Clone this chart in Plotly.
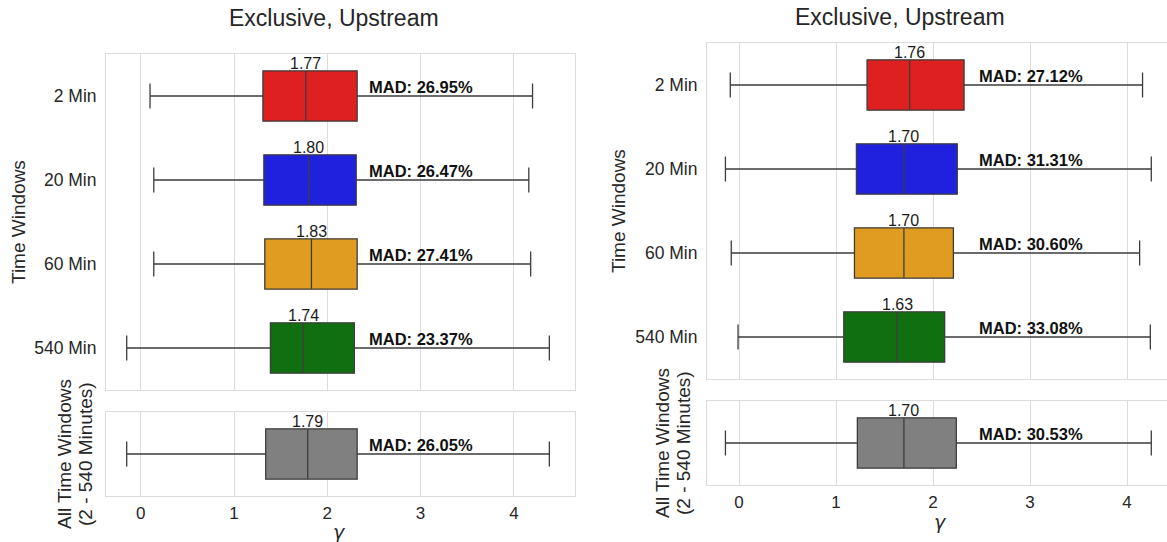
import plotly.graph_objects as go

# ---- data -------------------------------------------------------------
windows = ["2 Min", "20 Min", "60 Min", "540 Min"]
window_colors = ["#df2020", "#2020df", "#df9c20", "#107010"]
all_color = "#808080"
all_label = "All"

# panel A
a_lower = [0.10, 0.14, 0.14, -0.15]
a_q1 = [1.31, 1.32, 1.33, 1.39]
a_median = [1.77, 1.80, 1.83, 1.74]
a_q3 = [2.32, 2.31, 2.32, 2.29]
a_upper = [4.20, 4.16, 4.18, 4.38]
a_mad = [26.95, 26.47, 27.41, 23.37]
a_all_stats = [-0.15, 1.34, 1.79, 2.32, 4.38]   # lower, q1, median, q3, upper
a_all_mad = 26.05

# panel B
b_lower = [-0.09, -0.14, -0.08, -0.01]
b_q1 = [1.32, 1.21, 1.19, 1.08]
b_median = [1.76, 1.70, 1.70, 1.63]
b_q3 = [2.32, 2.25, 2.21, 2.12]
b_upper = [4.16, 4.25, 4.13, 4.24]
b_mad = [27.12, 31.31, 30.60, 33.08]
b_all_stats = [-0.14, 1.22, 1.70, 2.24, 4.25]
b_all_mad = 30.53

panel_title = "Exclusive, Upstream"
x_ticks = [0, 1, 2, 3, 4]

# ---- styling ----------------------------------------------------------
W, H = 1167, 542
FONT = "Liberation Sans, Arial, sans-serif"
TEXT = "#262626"
EDGE = "#3d3d3d"
GRID = "#dcdcdc"


def px(x):
    return x / W


def py(y):
    return 1 - y / H


fig = go.Figure()


def add_box(cat, lo, q1, med, q3, hi, color, xa, ya):
    fig.add_trace(go.Box(
        orientation="h", y=[cat], lowerfence=[lo], q1=[q1], median=[med],
        q3=[q3], upperfence=[hi], fillcolor=color,
        line=dict(color=EDGE, width=1.3), width=0.6, whiskerwidth=0.5,
        boxpoints=False, showlegend=False, xaxis=xa, yaxis=ya,
        hoverinfo="skip"))


annotations = []


def add_labels(cat, med, mad, mad_x, xa, ya):
    annotations.append(dict(
        x=med, y=cat, xref=xa, yref=ya, text=f"{med:.2f}", showarrow=False,
        xanchor="center", yanchor="middle", yshift=33,
        font=dict(family=FONT, size=16, color="#1a1a1a")))
    annotations.append(dict(
        x=mad_x, y=cat, xref=xa, yref=ya, text=f"<b>MAD: {mad:.2f}%</b>",
        showarrow=False, xanchor="left", yanchor="middle", yshift=9,
        font=dict(family=FONT, size=16.5, color="#111111")))


# panel A boxes
for i, w in enumerate(windows):
    add_box(w, a_lower[i], a_q1[i], a_median[i], a_q3[i], a_upper[i],
            window_colors[i], "x", "y")
    add_labels(w, a_median[i], a_mad[i], 2.43, "x", "y")
add_box(all_label, *a_all_stats, all_color, "x2", "y2")
add_labels(all_label, a_all_stats[2], a_all_mad, 2.43, "x2", "y2")

# panel B boxes
for i, w in enumerate(windows):
    add_box(w, b_lower[i], b_q1[i], b_median[i], b_q3[i], b_upper[i],
            window_colors[i], "x3", "y3")
    add_labels(w, b_median[i], b_mad[i], 2.45, "x3", "y3")
add_box(all_label, *b_all_stats, all_color, "x4", "y4")
add_labels(all_label, b_all_stats[2], b_all_mad, 2.45, "x4", "y4")


def xaxis(domain, rng, anchor, labels, mirror=True):
    return dict(domain=domain, range=rng, anchor=anchor, tickvals=x_ticks,
                showticklabels=labels, showgrid=True, gridcolor=GRID,
                gridwidth=1, zeroline=False, showline=True, linecolor=GRID,
                linewidth=1, mirror=mirror, ticks="outside" if labels else "",
                ticklen=2, tickcolor="rgba(0,0,0,0)",
                tickfont=dict(family=FONT, size=17, color=TEXT))


def yaxis(domain, anchor, cats, labels, mirror=True):
    return dict(domain=domain, anchor=anchor, type="category",
                categoryorder="array", categoryarray=cats[::-1],
                range=[-0.5, len(cats) - 0.5], showticklabels=labels,
                showgrid=False, zeroline=False, showline=True, linecolor=GRID,
                linewidth=1, mirror=mirror, ticks="outside", ticklen=5,
                tickcolor="rgba(0,0,0,0)",
                tickfont=dict(family=FONT, size=17.5, color=TEXT))


a_x = [px(106), px(575)]
b_x = [px(707), 1.0]
a_range = [-0.372, 4.655]
b_range = [-0.330, 4.412]

fig.update_layout(
    width=W, height=H, margin=dict(l=0, r=0, t=0, b=0),
    paper_bgcolor="white", plot_bgcolor="white",
    xaxis=xaxis(a_x, a_range, "y", False),
    yaxis=yaxis([py(390), py(54)], "x", windows, True),
    xaxis2=xaxis(a_x, a_range, "y2", True),
    yaxis2=yaxis([py(496), py(412)], "x2", [all_label], False),
    xaxis3=xaxis(b_x, b_range, "y3", False),
    yaxis3=yaxis([py(379), py(43)], "x3", windows, True, mirror=False),
    xaxis4=xaxis(b_x, b_range, "y4", True),
    yaxis4=yaxis([py(485), py(401)], "x4", [all_label], False, mirror=False),
)

# titles and axis labels
title_font = dict(family=FONT, size=23, color=TEXT)
label_font = dict(family=FONT, size=19, color=TEXT)


def paper_text(x, y, text, font, angle=0):
    annotations.append(dict(x=px(x), y=py(y), xref="paper", yref="paper",
                            text=text, textangle=angle, showarrow=False,
                            xanchor="center", yanchor="middle", font=font))


for x, y in [(334, 18), (900, 17)]:
    paper_text(x, y, panel_title, title_font)
for x, y in [(18, 222), (619, 211)]:
    paper_text(x, y, "Time Windows", label_font, -90)
for x1, x2, y in [(64, 85, 454), (662, 683, 443)]:
    paper_text(x1, y, "All Time Windows", label_font, -90)
    paper_text(x2, y, "(2 - 540 Minutes)", label_font, -90)
for x, y in [(340, 532), (940, 522)]:
    paper_text(x, y, "<i>γ</i>",
               dict(family="DejaVu Sans", size=19, color=TEXT))

fig.update_layout(annotations=annotations)
fig.write_html("out.html")
